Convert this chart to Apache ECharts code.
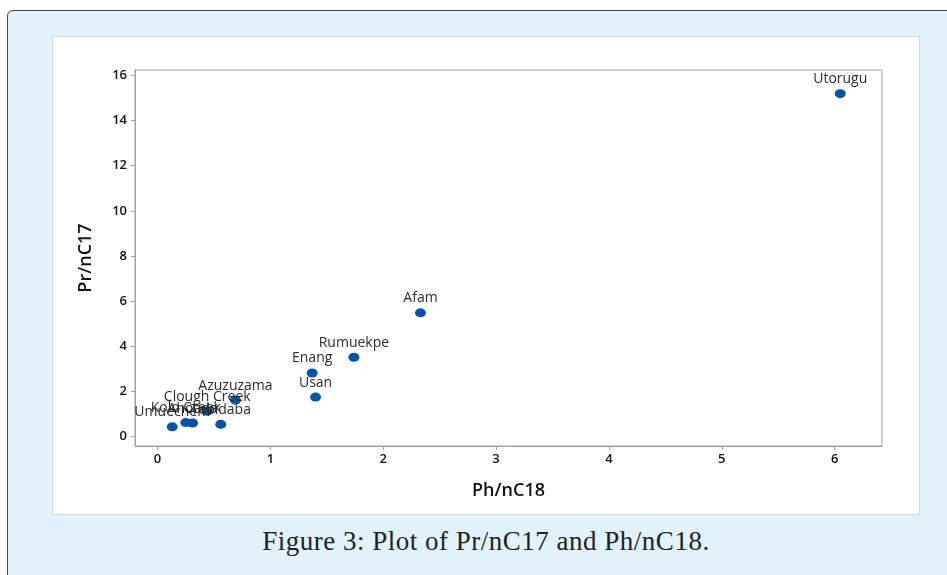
<!DOCTYPE html>
<html>
<head>
<meta charset="utf-8">
<script src="https://cdn.jsdelivr.net/npm/echarts@6/dist/echarts.min.js"></script>
<style>
  html, body { margin: 0; padding: 0; width: 947px; height: 575px; overflow: hidden; background: #fff; }
  #frame { position: absolute; left: 7px; top: 10px; width: 960px; height: 600px;
           background: #e1f2fc; border: 1.5px solid #444; border-radius: 6px 0 0 0; box-sizing: border-box; }
  #panel { position: absolute; left: 52px; top: 36px; width: 868px; height: 479px;
           background: #fff; border: 1px solid #d8d8d8; box-sizing: border-box; }
  #caption { position: absolute; left: 52px; width: 868px; top: 526px; text-align: center;
             font-family: "Liberation Serif", serif; font-size: 27px; letter-spacing: 0.5px; color: #222; }
  #chart { position: absolute; left: 0; top: 0; width: 947px; height: 575px; }
</style>
</head>
<body>
<div id="frame"></div>
<div id="panel"></div>
<div id="caption">Figure 3: Plot of Pr/nC17 and Ph/nC18.</div>
<div id="chart"></div>
<script>
// field names and ratios
const fields = ["Utorugu", "Afam", "Rumuekpe", "Enang", "Usan", "Azuzuzama",
                "Clough Creek", "Kolo Creek", "Ahoada", "Tebidaba", "Umuechem"];
const phNC18 = [6.05, 2.33, 1.74, 1.37, 1.40, 0.69, 0.44, 0.25, 0.31, 0.56, 0.13];
const prNC17 = [15.2, 5.47, 3.5, 2.8, 1.73, 1.6, 1.1, 0.6, 0.58, 0.52, 0.41];

const xTicks = [0, 1, 2, 3, 4, 5, 6];
const yTicks = [0, 2, 4, 6, 8, 10, 12, 14, 16];

const points = fields.map((name, i) => ({ name: name, value: [phNC18[i], prNC17[i]] }));

const tickFont = { fontFamily: "Open Sans", fontSize: 13, fontWeight: 600, color: "#111" };
const titleFont = { fontFamily: "Open Sans", fontSize: 18, fontWeight: 600, color: "#111" };
const lineStyle = { color: "#a0a0a0", width: 1 };

const chart = echarts.init(document.getElementById("chart"), null, { renderer: "canvas" });

chart.setOption({
    backgroundColor: "transparent",
    animation: false,
    grid: { left: 135, right: 65, top: 70, bottom: 129, show: true, borderColor: "#a0a0a0", borderWidth: 1 },
    xAxis: {
        type: "value",
        min: -0.2,
        max: 6.42,
        name: "Ph/nC18",
        nameLocation: "middle",
        nameGap: 36,
        nameTextStyle: titleFont,
        axisLine: { show: true, onZero: false, lineStyle: lineStyle },
        axisTick: { show: true, length: 4, lineStyle: lineStyle, customValues: xTicks },
        axisLabel: Object.assign({ margin: 7, customValues: xTicks }, tickFont),
        splitLine: { show: false }
    },
    yAxis: {
        type: "value",
        min: -0.44,
        max: 16.25,
        name: "Pr/nC17",
        nameLocation: "middle",
        nameGap: 40,
        nameTextStyle: titleFont,
        axisLine: { show: true, onZero: false, lineStyle: lineStyle },
        axisTick: { show: true, length: 4, lineStyle: lineStyle, customValues: yTicks },
        axisLabel: Object.assign({ margin: 8, customValues: yTicks }, tickFont),
        splitLine: { show: false }
    },
    series: [{
        type: "scatter",
        data: points,
        symbol: "circle",
        symbolSize: [11, 9],
        itemStyle: { color: "#0553a8", opacity: 1 },
        label: {
            show: true,
            position: "top",
            distance: 3,
            formatter: (p) => p.name,
            fontFamily: "Open Sans",
            fontSize: 14,
            color: "#2a2a2a"
        }
    }]
});
</script>
</body>
</html>
